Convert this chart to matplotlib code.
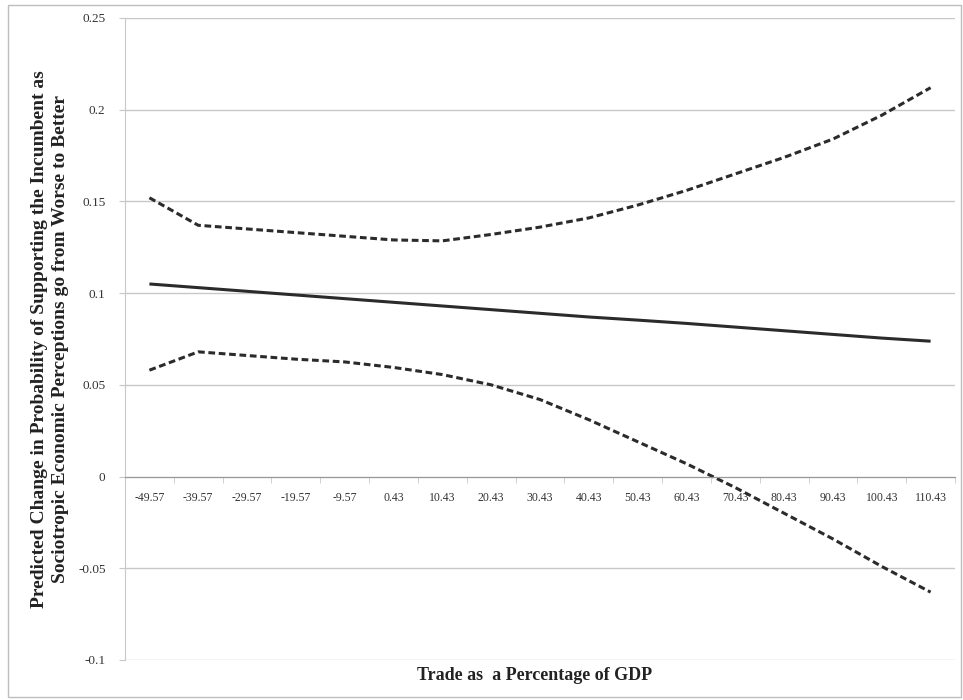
import matplotlib.pyplot as plt
from matplotlib.patches import Rectangle

# Trade as % of GDP (category axis)
trade_labels = ["-49.57", "-39.57", "-29.57", "-19.57", "-9.57", "0.43", "10.43",
                "20.43", "30.43", "40.43", "50.43", "60.43", "70.43", "80.43",
                "90.43", "100.43", "110.43"]

# predicted change and 95% bounds
estimate = [0.105, 0.103, 0.101, 0.099, 0.097, 0.095, 0.093, 0.091, 0.089,
            0.087, 0.0853, 0.0835, 0.0815, 0.0795, 0.0775, 0.0755, 0.0738]
upper = [0.152, 0.137, 0.135, 0.133, 0.131, 0.129, 0.1285, 0.132, 0.136,
         0.141, 0.148, 0.156, 0.165, 0.174, 0.184, 0.197, 0.212]
lower = [0.058, 0.068, 0.066, 0.064, 0.0625, 0.0595, 0.0556, 0.050, 0.042,
         0.031, 0.019, 0.007, -0.006, -0.020, -0.034, -0.049, -0.063]

y_ticks = [-0.1, -0.05, 0, 0.05, 0.1, 0.15, 0.2, 0.25]
y_tick_labels = ["-0.1", "-0.05", "0", "0.05", "0.1", "0.15", "0.2", "0.25"]

plt.rcParams["font.family"] = ["Liberation Serif", "DejaVu Serif"]

fig = plt.figure(figsize=(9.63, 7), dpi=100)
ax = fig.add_axes([125 / 963, 40 / 700, 830 / 963, 642 / 700])

x = list(range(len(trade_labels)))
ax.plot(x, estimate, color="#2b2b2b", lw=2.2, solid_capstyle="butt")
ax.plot(x, upper, color="#2b2b2b", lw=2.2, ls=(0, (2.2, 1.2)))
ax.plot(x, lower, color="#2b2b2b", lw=2.2, ls=(0, (2.2, 1.2)))

ax.set_xlim(-0.5, len(trade_labels) - 0.5)
ax.set_ylim(-0.1, 0.25)
ax.set_yticks(y_ticks)
ax.set_yticklabels(y_tick_labels, fontsize=9.5, color="#333333")
ax.yaxis.grid(True, color="#c8c8c8", lw=1)
ax.set_axisbelow(True)
ax.tick_params(axis="y", length=4, color="#c8c8c8", pad=10)

# category axis sits on y = 0
ax.spines["bottom"].set_position(("data", 0))
ax.spines["bottom"].set_color("#999999")
ax.spines["left"].set_color("#c8c8c8")
ax.spines["top"].set_visible(False)
ax.spines["right"].set_visible(False)
ax.set_xticks(x)
ax.set_xticklabels(trade_labels, fontsize=8.5, color="#333333")
ax.tick_params(axis="x", which="major", length=0, pad=11)
ax.set_xticks([i - 0.5 for i in range(len(trade_labels) + 1)], minor=True)
ax.tick_params(axis="x", which="minor", length=4, color="#c8c8c8")

fig.text(535 / 963, 1 - 675 / 700, "Trade as  a Percentage of GDP",
         ha="center", va="center", fontsize=13, fontweight="bold", color="#222222")
fig.text(50 / 963, 1 - 339 / 700,
         "Predicted Change in Probability of Supporting the Incumbent as\n"
         "Sociotropic Economic Perceptions go from Worse to Better",
         ha="center", va="center", rotation=90, fontsize=14,
         fontweight="bold", color="#222222", linespacing=1.3)

fig.patches.append(Rectangle((8 / 963, 3 / 700), 953 / 963, 692 / 700,
                             transform=fig.transFigure, fill=False,
                             edgecolor="#bdbdbd", lw=1))

fig.savefig("out.png", dpi=100)
